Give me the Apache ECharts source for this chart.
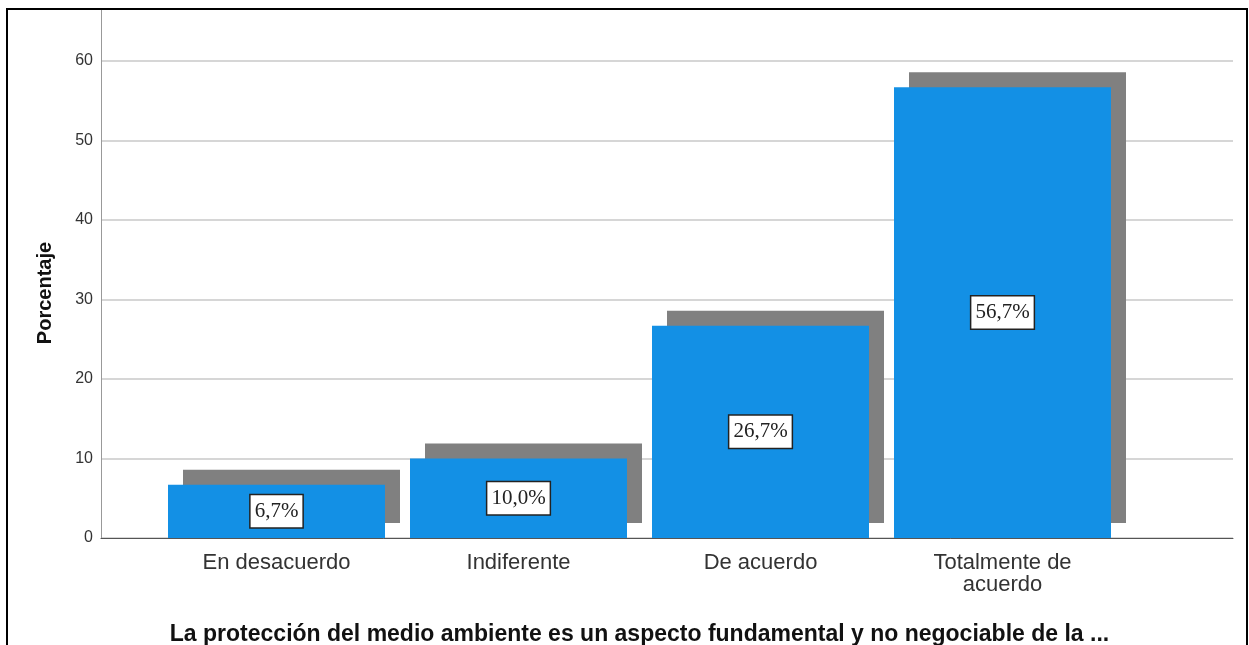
<!DOCTYPE html>
<html>
<head>
<meta charset="utf-8">
<title>Porcentaje</title>
<script src="https://cdn.jsdelivr.net/npm/echarts@6/dist/echarts.min.js"></script>
<style>
  html, body { margin: 0; padding: 0; background: #fff; }
  #chart { width: 1249px; height: 645px; }
</style>
</head>
<body>
<div id="chart"></div>
<script>
// datos
const categories = ['En desacuerdo', 'Indiferente', 'De acuerdo', 'Totalmente de\nacuerdo'];
const percentages = [6.7, 10.0, 26.7, 56.7];
const yMax = 66.4;
const yInterval = 10;
const xTitle = 'La protección del medio ambiente es un aspecto fundamental y no negociable de la ...';
const yTitle = 'Porcentaje';

let chartDom = document.getElementById('chart');
let myChart = echarts.init(chartDom);

let option = {
  animation: false,
  backgroundColor: '#fff',
  grid: [
    // ejes y lineas de cuadricula
    { left: 101, right: 16, top: 10, bottom: 107, outerBoundsMode: 'none' },
    // barras
    { left: 155.5, width: 968, top: 10, bottom: 107, outerBoundsMode: 'none' }
  ],
  xAxis: [
    {
      gridIndex: 0,
      type: 'value',
      min: 0,
      max: 1,
      axisLine: { show: true, lineStyle: { color: '#555', width: 1 } },
      axisTick: { show: false },
      axisLabel: { show: false },
      splitLine: { show: false }
    },
    {
      gridIndex: 1,
      type: 'category',
      data: categories,
      axisLine: { show: false },
      axisTick: { show: false },
      axisLabel: {
        fontFamily: 'Liberation Sans, Arial, sans-serif',
        fontSize: 22,
        lineHeight: 22,
        color: '#333',
        margin: 14
      },
      name: xTitle,
      nameLocation: 'middle',
      nameGap: 85,
      nameTextStyle: {
        fontFamily: 'Liberation Sans, Arial, sans-serif',
        fontSize: 23,
        fontWeight: 'bold',
        color: '#111'
      }
    }
  ],
  yAxis: [
    {
      gridIndex: 0,
      type: 'value',
      min: 0,
      max: yMax,
      interval: yInterval,
      axisLine: { show: true, lineStyle: { color: '#999', width: 1 } },
      axisTick: { show: false },
      axisLabel: {
        showMaxLabel: false,
        fontFamily: 'Liberation Sans, Arial, sans-serif',
        fontSize: 16,
        color: '#333',
        margin: 8
      },
      splitLine: { show: true, showMaxLine: false, lineStyle: { color: '#c8c8c8', width: 1.5 } }
    },
    {
      gridIndex: 1,
      type: 'value',
      min: 0,
      max: yMax,
      interval: yInterval,
      show: false
    }
  ],
  graphic: [
    {
      type: 'text',
      x: 45,
      y: 293,
      rotation: Math.PI / 2,
      style: {
        text: yTitle,
        fontFamily: 'Liberation Sans, Arial, sans-serif',
        fontSize: 20,
        fontWeight: 'bold',
        fill: '#111',
        align: 'center',
        verticalAlign: 'middle'
      }
    },
    {
      type: 'rect',
      z: 100,
      shape: { x: 7, y: 9, width: 1240, height: 700 },
      style: { fill: 'none', stroke: '#000', lineWidth: 2 }
    }
  ],
  series: [
    {
      type: 'bar',
      xAxisIndex: 1,
      yAxisIndex: 1,
      data: percentages,
      barWidth: 217,
      itemStyle: {
        color: '#1390e5',
        shadowColor: '#808080',
        shadowBlur: 0,
        shadowOffsetX: 15,
        shadowOffsetY: -15
      },
      label: {
        show: true,
        position: 'inside',
        formatter: function (p) {
          return p.value.toFixed(1).replace('.', ',') + '%';
        },
        fontFamily: 'Liberation Serif, Times New Roman, serif',
        fontSize: 21,
        lineHeight: 23,
        color: '#222',
        backgroundColor: '#fff',
        borderColor: '#222',
        borderWidth: 1.5,
        padding: [5, 4, 4, 4]
      }
    }
  ]
};

option && myChart.setOption(option);
</script>
</body>
</html>
